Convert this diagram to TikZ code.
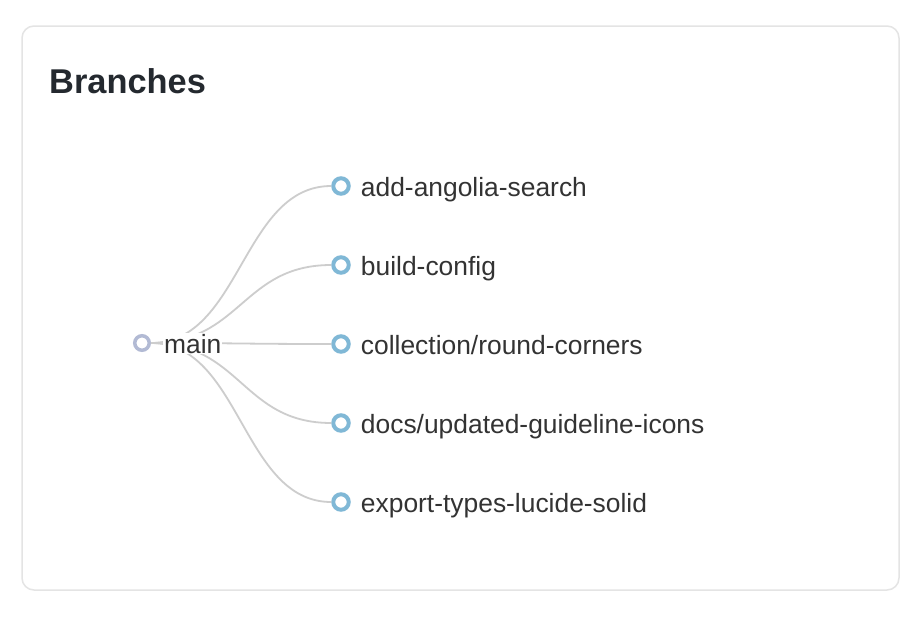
\documentclass[tikz,border=0pt]{standalone}
\usepackage{fontspec}
\setmainfont{Liberation Sans}
\usetikzlibrary{positioning}
\definecolor{cardline}{HTML}{E4E4E4}
\definecolor{linkgray}{HTML}{CDCDCD}
\definecolor{branchblue}{HTML}{80B8D6}
\definecolor{rootlilac}{HTML}{B2BAD4}
\definecolor{textdark}{HTML}{24292F}
\definecolor{namedark}{HTML}{333333}
\tikzset{
  branch dot/.style={circle, draw=branchblue, line width=4pt, fill=white, minimum size=15.5pt, inner sep=0pt},
  root dot/.style={branch dot, draw=rootlilac, line width=3.5pt, minimum size=14.5pt},
  branch name/.style={anchor=base west, inner sep=0pt, text=namedark, font=\fontsize{26.4}{31}\selectfont},
  link/.style={linkgray, line width=1.8pt},
}
\begin{document}
\begin{tikzpicture}[x=1pt,y=-1pt]
  \useasboundingbox (0,0) rectangle (924,616);
  \fill[white] (0,0) rectangle (924,616);
  \draw[cardline, line width=1.5pt, rounded corners=12pt] (22,26) rectangle (899,590);
  \node[anchor=base west, inner sep=0pt, text=textdark, font=\bfseries\fontsize{34.4}{40}\selectfont] (title) at (49,93) {Branches};
  % root and branch dots
  \node[root dot] (main) at (142,343) {};
  \foreach \i in {1,...,5}
    \node[branch dot] (b\i) at (341,107+79*\i) {};
  % links
  \foreach \i in {1,...,5}
    \draw[link] (main) .. controls +(99,0) and +(-99,0) .. (b\i);
  % names
  \node[branch name, fill=white, inner sep=1pt] (mainname) at ([xshift=12pt,yshift=-10pt]main.east) {main};
  \foreach \name [count=\i] in {add-angolia-search, build-config, collection/round-corners, docs/updated-guideline-icons, export-types-lucide-solid}
    \node[branch name] (n\i) at ([xshift=10pt,yshift=-10pt]b\i.east) {\name};
\end{tikzpicture}
\end{document}
